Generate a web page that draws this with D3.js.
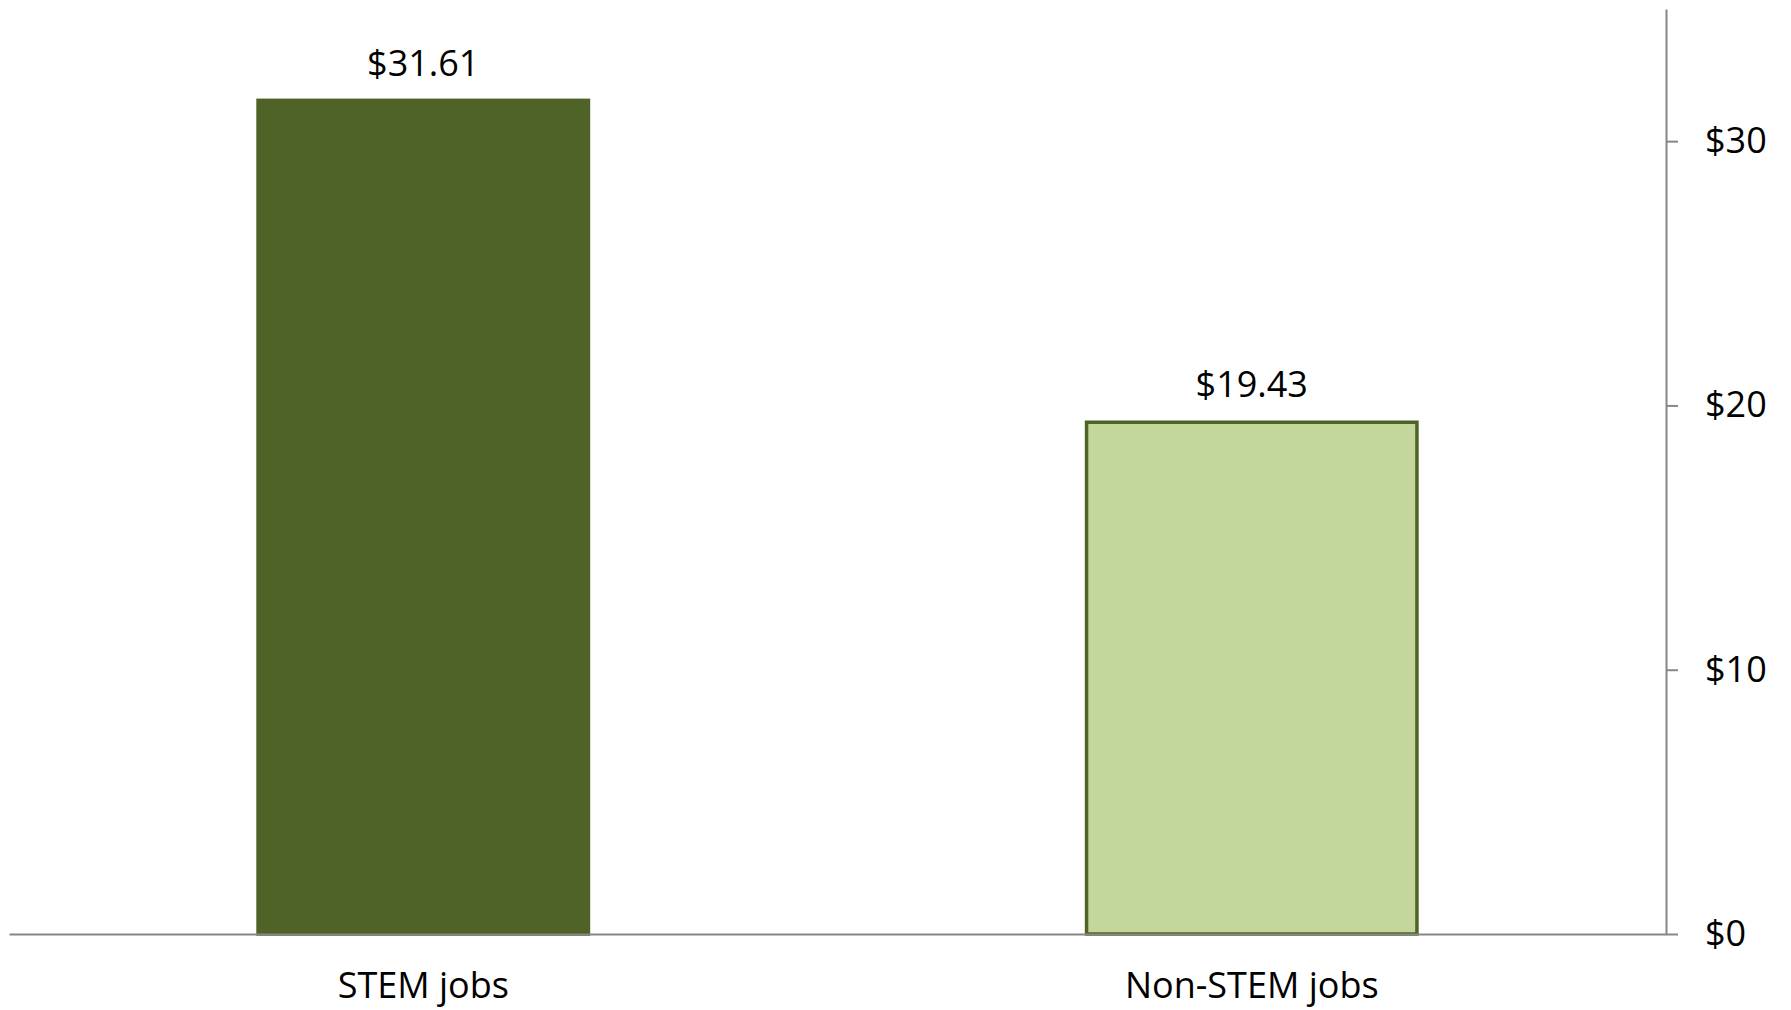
<!DOCTYPE html>
<html>
<head>
<meta charset="utf-8">
<script src="https://cdn.jsdelivr.net/npm/d3@7"></script>
<style>
  html, body { margin: 0; padding: 0; background: #ffffff; }
  svg text { font-family: "Open Sans", "Noto Sans", sans-serif; fill: #000; }
</style>
</head>
<body>
<svg id="chart" width="1791" height="1010"></svg>
<script>
const categories = ["STEM jobs", "Non-STEM jobs"];
const values = [31.61, 19.43];
const fills = ["#4F6228", "#C3D69B"];
const tickValues = [0, 10, 20, 30];

(function () {
const svg = d3.select("#chart");
const mLeft = 9, mRight = 1666, mTop = 9, mBottom = 934;
const sw = 3.5;

const x = d3.scaleBand().domain(categories).range([mLeft, mRight])
  .paddingInner(0.597).paddingOuter(0.2985);
const y = d3.scaleLinear().domain([0, 35]).range([mBottom, mTop]);

const data = categories.map((c, i) => ({ c, v: values[i], fill: fills[i] }));

// bars
svg.append("g").selectAll("rect").data(data).join("rect")
  .attr("x", d => x(d.c) + sw / 2)
  .attr("y", d => y(d.v) + sw / 2)
  .attr("width", x.bandwidth() - sw)
  .attr("height", d => y(0) - y(d.v) - sw / 2)
  .attr("fill", d => d.fill)
  .attr("stroke", "#4F6228")
  .attr("stroke-width", sw);

// value labels
svg.append("g").selectAll("text").data(data).join("text")
  .attr("x", d => x(d.c) + x.bandwidth() / 2)
  .attr("y", d => y(d.v) - 23)
  .attr("text-anchor", "middle")
  .style("font-size", "36px")
  .text(d => "$" + d3.format(".2f")(d.v));

// right axis
const yAxis = d3.axisRight(y).tickValues(tickValues)
  .tickSize(12).tickSizeOuter(0).tickPadding(27)
  .tickFormat(d => "$" + d);
const gy = svg.append("g").attr("transform", `translate(${mRight},0)`).call(yAxis);
gy.select(".domain").attr("stroke", "#868686").attr("stroke-width", 2);
gy.selectAll(".tick line").attr("stroke", "#868686").attr("stroke-width", 2);
gy.selectAll(".tick text").style("font-size", "36px").attr("fill", "#000");

// bottom axis
const xAxis = d3.axisBottom(x).tickSize(0).tickPadding(38);
const gx = svg.append("g").attr("transform", `translate(0,${mBottom})`).call(xAxis);
gx.select(".domain").attr("stroke", "#868686").attr("stroke-width", 2);
gx.selectAll(".tick text").style("font-size", "36px").attr("fill", "#000");
})();
</script>
</body>
</html>
